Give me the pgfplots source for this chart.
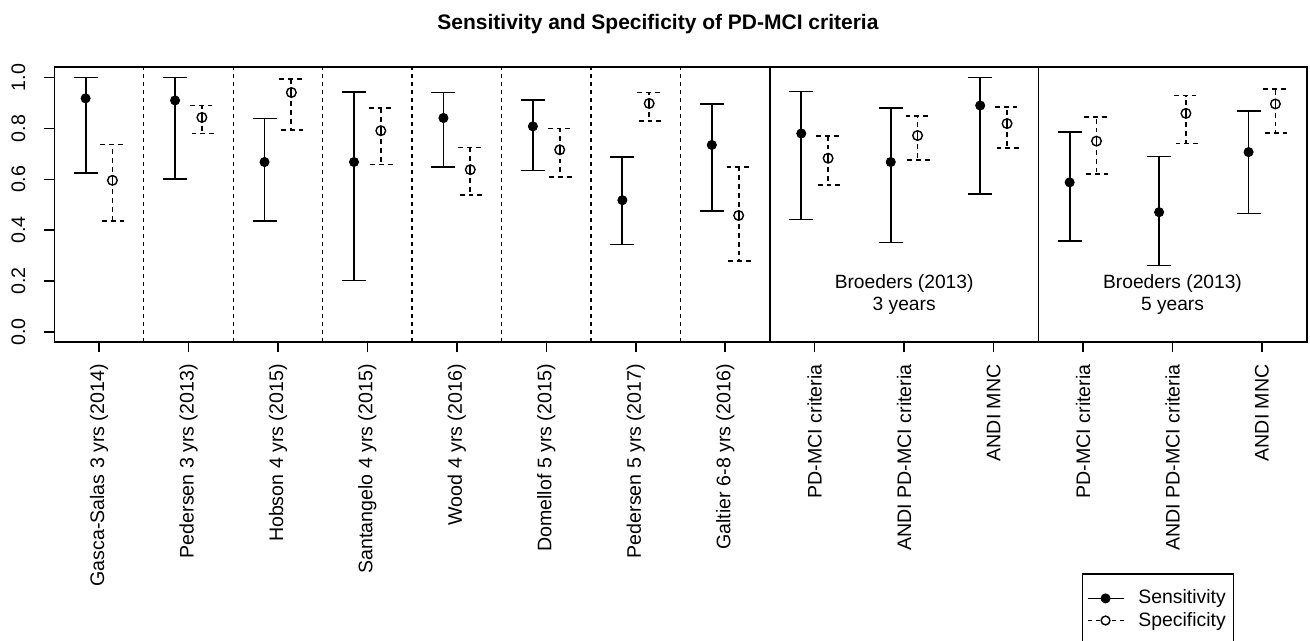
\documentclass[border=0pt]{standalone}
\usepackage{pgfplots}
\usepackage{pgfplotstable}
\pgfplotsset{compat=1.18}
\usepackage{fontspec}
\setmainfont{Liberation Sans}

% Sensitivity and specificity with confidence limits, one row per study
\pgfplotstableread{
i  sens   slo    shi    spec   plo    phi
1  0.918  0.625  1.000  0.596  0.435  0.737
2  0.910  0.602  1.000  0.843  0.780  0.890
3  0.668  0.435  0.839  0.941  0.795  0.994
4  0.668  0.203  0.943  0.791  0.658  0.880
5  0.841  0.648  0.941  0.638  0.537  0.725
6  0.808  0.635  0.911  0.716  0.610  0.800
7  0.518  0.344  0.687  0.898  0.830  0.941
8  0.735  0.476  0.896  0.458  0.280  0.649
9  0.780  0.442  0.945  0.683  0.579  0.771
10 0.668  0.352  0.881  0.772  0.677  0.848
11 0.890  0.543  1.000  0.819  0.724  0.885
12 0.588  0.359  0.786  0.750  0.622  0.846
13 0.471  0.262  0.690  0.859  0.741  0.929
14 0.707  0.466  0.869  0.896  0.782  0.954
}\critdata

\begin{document}
\begin{tikzpicture}
\begin{axis}[
  scale only axis,
  width=626.2pt, height=137.5pt,
  xmin=0.5, xmax=14.5,
  ymin=-0.04, ymax=1.04,
  axis line style={line width=0.8pt},
  tick style={line width=0.8pt, black},
  tick align=outside,
  major tick length=5pt,
  xtick={1,...,14},
  xticklabels={
    {Gasca-Salas 3 yrs (2014)},
    {Pedersen 3 yrs (2013)},
    {Hobson 4 yrs (2015)},
    {Santangelo 4 yrs (2015)},
    {Wood 4 yrs (2016)},
    {Domellof 5 yrs (2015)},
    {Pedersen 5 yrs (2017)},
    {Galtier 6-8 yrs (2016)},
    {PD-MCI criteria},
    {ANDI PD-MCI criteria},
    {ANDI MNC},
    {PD-MCI criteria},
    {ANDI PD-MCI criteria},
    {ANDI MNC}},
  x tick label style={rotate=90, anchor=east, font=\fontsize{9.8}{11}\selectfont},
  xticklabel shift=2.5pt,
  ytick={0,0.2,0.4,0.6,0.8,1},
  yticklabels={0.0,0.2,0.4,0.6,0.8,1.0},
  y tick label style={rotate=90, anchor=south, font=\fontsize{9.8}{11}\selectfont},
  yticklabel shift=6pt,
  xtick pos=bottom, ytick pos=left,
  /pgf/number format/assume math mode=true,
  title={Sensitivity and Specificity of PD-MCI criteria},
  title style={at={(0.482,1)}, anchor=center, yshift=15.65pt,
    font=\bfseries\fontsize{10.5}{12}\selectfont},
  legend style={at={(0.8206,-0.84)}, anchor=north west, draw=black,
    line width=0.6pt, font=\fontsize{9.7}{10}\selectfont,
    inner xsep=2pt, inner ysep=6pt, row sep=-1.5pt, column sep=5pt},
  legend cell align=left,
]

% separators between studies (dashed) and between Broeders groups (solid)
\pgfplotsinvokeforeach{1.5,2.5,3.5,4.5,5.5,6.5,7.5}{
  \addplot[forget plot, line width=0.7pt, dash pattern=on 2pt off 2pt]
    coordinates {(#1,-0.1) (#1,1.1)};
}
\addplot[forget plot, line width=0.7pt] coordinates {(8.5,-0.1) (8.5,1.1)};
\addplot[forget plot, line width=0.7pt] coordinates {(11.5,-0.1) (11.5,1.1)};

% sensitivity
\addplot[only marks, mark=*, mark size=2.3pt, black,
  legend image code/.code={
    \draw[line width=0.9pt, solid] (0pt,0pt) -- (18pt,0pt);
    \fill (9pt,0pt) circle (2.2pt);},
  error bars/.cd, y dir=both, y explicit,
  error bar style={line width=0.9pt, solid},
  error mark=|, error mark options={mark size=6pt, line width=0.9pt, solid}]
  table[x expr=\thisrow{i}-0.15, y=sens,
        y error plus expr=\thisrow{shi}-\thisrow{sens},
        y error minus expr=\thisrow{sens}-\thisrow{slo}] {\critdata};
\addlegendentry{Sensitivity}

% specificity
\addplot[only marks, mark=o, mark size=2.4pt, black, mark options={line width=0.7pt, solid},
  legend image code/.code={
    \draw[line width=0.9pt, dash pattern=on 2pt off 2pt] (0pt,0pt) -- (18pt,0pt);
    \draw[line width=0.7pt, solid, fill=white] (9pt,0pt) circle (2.2pt);},
  error bars/.cd, y dir=both, y explicit,
  error bar style={line width=0.9pt, dash pattern=on 2.4pt off 2pt},
  error mark=|, error mark options={mark size=6pt, line width=0.9pt, dash pattern=on 2.4pt off 2pt}]
  table[x expr=\thisrow{i}+0.15, y=spec,
        y error plus expr=\thisrow{phi}-\thisrow{spec},
        y error minus expr=\thisrow{spec}-\thisrow{plo}] {\critdata};
\addlegendentry{Specificity}

\node[align=center, font=\fontsize{9.6}{11}\selectfont] at (axis cs:10,0.146) {Broeders (2013)\\3 years};
\node[align=center, font=\fontsize{9.6}{11}\selectfont] at (axis cs:13,0.146) {Broeders (2013)\\5 years};
\end{axis}
\pgfresetboundingbox
\path[use as bounding box] (-27.15pt,-149.35pt) rectangle (627.85pt,171.15pt);
\end{tikzpicture}
\end{document}
